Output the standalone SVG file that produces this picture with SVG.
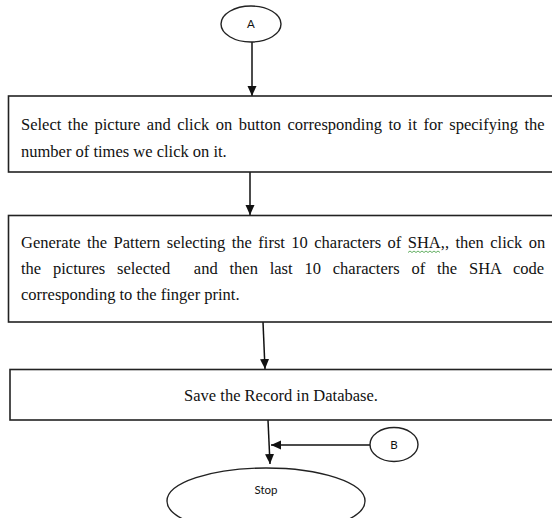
<svg xmlns="http://www.w3.org/2000/svg" width="552" height="518" viewBox="0 0 552 518">
<style>
.box{fill:#fff;stroke:#222;stroke-width:1.6}
.term{fill:#fff;stroke:#222;stroke-width:1.4}
.t{font-family:"Liberation Serif","Times New Roman",serif;font-size:16.5px;fill:#111}
.s{font-family:Lato,"Liberation Sans",sans-serif;font-size:11.5px;fill:#111;text-anchor:middle}
.c{stroke:#111;stroke-width:1.5;fill:none;marker-end:url(#ah)}
</style>
<defs>
<marker id="ah" markerUnits="userSpaceOnUse" markerWidth="10" markerHeight="12" refX="10" refY="4.5" orient="auto">
<path d="M0,0 L10,4.5 L0,9 z" fill="#111"/>
</marker>
</defs>
<rect width="552" height="518" fill="#fff"/>
<g id="connectors">
<line class="c" x1="252" y1="42" x2="252" y2="96"/>
<line class="c" x1="250" y1="172" x2="250" y2="215"/>
<line class="c" x1="263" y1="322" x2="265" y2="369"/>
<line class="c" x1="268" y1="420" x2="270" y2="464"/>
<line class="c" x1="370" y1="445" x2="271" y2="445"/>
</g>
<g id="nodeA">
<ellipse class="term" cx="251" cy="24" rx="30" ry="18"/>
<text class="s" x="251" y="28">A</text>
</g>
<g id="step1">
<rect class="box" x="8.5" y="96" width="560" height="76"/>
<text class="t" x="21" y="130" word-spacing="2.4">Select the picture and click on button corresponding to it for specifying the</text>
<text class="t" x="21" y="157">number of times we click on it.</text>
</g>
<g id="step2">
<rect class="box" x="8.5" y="215.5" width="560" height="106.5"/>
<text class="t" x="21" y="248" word-spacing="2.3">Generate the Pattern selecting the first 10 characters of SHA,, then click on</text>
<path d="M408,252.5 l2,-1.5 l2,1.5 l2,-1.5 l2,1.5 l2,-1.5 l2,1.5 l2,-1.5 l2,1.5 l2,-1.5 l2,1.5 l2,-1.5 l2,1.5 l2,-1.5 l2,1.5 l2,-1.5 l2,1.5" fill="none" stroke="#3a9a3a" stroke-width="0.8"/>
<text class="t" x="21" y="274" word-spacing="7.7" xml:space="preserve">the pictures selected  and then last 10 characters of the SHA code</text>
<text class="t" x="21" y="300">corresponding to the finger print.</text>
</g>
<g id="step3">
<rect class="box" x="10" y="369.5" width="560" height="50.5"/>
<text class="t" x="281" y="401" text-anchor="middle">Save the Record in Database.</text>
</g>
<g id="nodeB">
<ellipse class="term" cx="394" cy="444.5" rx="24" ry="17"/>
<text class="s" x="394" y="449">B</text>
</g>
<g id="stop">
<ellipse class="term" cx="266" cy="501" rx="99" ry="33"/>
<text class="s" x="266" y="494">Stop</text>
</g>
</svg>
